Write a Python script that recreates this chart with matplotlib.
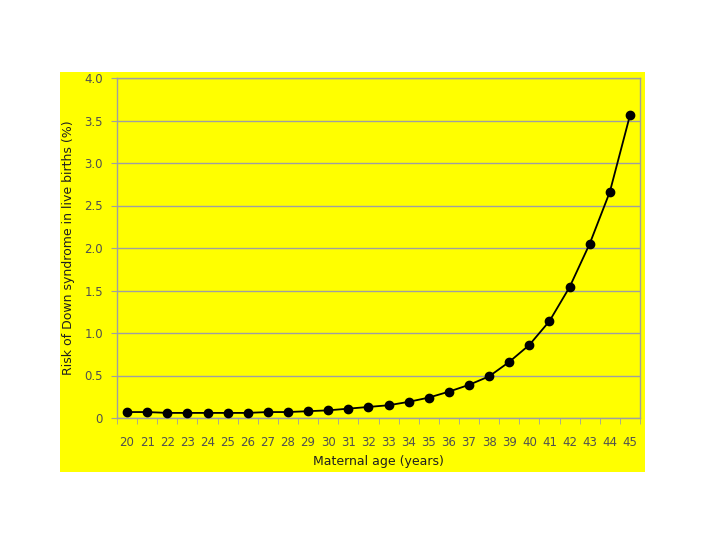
import matplotlib.pyplot as plt
from matplotlib.patches import Rectangle
from matplotlib.ticker import FixedLocator

# Maternal age vs risk of Down syndrome (%)
ages = list(range(20, 46))
risk = [0.07, 0.07, 0.06, 0.06, 0.06, 0.06, 0.06, 0.07, 0.07, 0.08,
        0.09, 0.11, 0.13, 0.15, 0.19, 0.24, 0.31, 0.39, 0.49, 0.66,
        0.86, 1.14, 1.54, 2.05, 2.66, 3.56]
y_ticks = [0, 0.5, 1.0, 1.5, 2.0, 2.5, 3.0, 3.5, 4.0]
y_labels = ['0', '0.5', '1.0', '1.5', '2.0', '2.5', '3.0', '3.5', '4.0']

yellow = '#ffff00'
grey = '#a0a0a0'
text_col = '#505050'

fig = plt.figure(figsize=(7.2, 5.4), dpi=100)
fig.patch.set_facecolor('white')
fig.patches.append(Rectangle((60 / 720, 1 - 472 / 540), 585 / 720, 400 / 540,
                             transform=fig.transFigure, facecolor=yellow,
                             edgecolor='none', zorder=-10))

ax = fig.add_axes([117 / 720, 1 - 418 / 540, 523 / 720, 340 / 540])
ax.set_facecolor(yellow)

x = range(len(ages))
ax.plot(x, risk, color='black', lw=1.3, marker='o', ms=6, zorder=3)

ax.set_xlim(-0.5, len(ages) - 0.5)
ax.set_ylim(0, 4.0)
ax.set_yticks(y_ticks)
ax.set_yticklabels(y_labels)
ax.set_xticks(list(x))
ax.set_xticklabels([str(a) for a in ages])
ax.xaxis.set_minor_locator(FixedLocator([i - 0.5 for i in range(len(ages) + 1)]))
ax.tick_params(axis='x', which='major', length=0, pad=13, labelsize=8.5, labelcolor=text_col)
ax.tick_params(axis='x', which='minor', length=4, color=grey, direction='out')
ax.tick_params(axis='y', length=4, color=grey, labelsize=8.5, labelcolor=text_col, pad=6)

ax.grid(axis='y', color=grey, lw=1)
for side in ax.spines.values():
    side.set_color(grey)
    side.set_linewidth(1)

ax.set_xlabel('Maternal age (years)', fontsize=9, color='#202020', labelpad=4)
ax.set_ylabel('Risk of Down syndrome in live births (%)', fontsize=9,
              color='#202020', labelpad=7)

plt.savefig('out.png', dpi=100, facecolor=fig.get_facecolor())
